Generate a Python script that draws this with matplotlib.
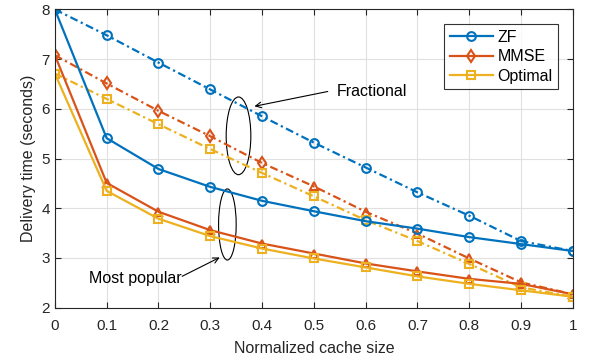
import matplotlib
matplotlib.use('Agg')
import matplotlib.pyplot as plt
from matplotlib.patches import Ellipse

plt.rcParams['font.family'] = ['Liberation Sans', 'DejaVu Sans']

# cache size
x = [0, 0.1, 0.2, 0.3, 0.4, 0.5, 0.6, 0.7, 0.8, 0.9, 1.0]

# fractional caching (dash-dot)
zf_frac = [8.0, 7.48, 6.93, 6.39, 5.85, 5.32, 4.82, 4.32, 3.85, 3.34, 3.14]
mmse_frac = [7.08, 6.51, 5.96, 5.45, 4.91, 4.44, 3.93, 3.49, 2.99, 2.51, 2.27]
opt_frac = [6.71, 6.20, 5.69, 5.19, 4.71, 4.24, 3.76, 3.34, 2.88, 2.41, 2.22]

# most popular caching (solid)
zf_pop = [8.0, 5.41, 4.79, 4.43, 4.15, 3.94, 3.74, 3.59, 3.42, 3.28, 3.14]
mmse_pop = [7.08, 4.51, 3.93, 3.56, 3.29, 3.09, 2.89, 2.73, 2.58, 2.48, 2.27]
opt_pop = [6.71, 4.35, 3.79, 3.44, 3.19, 2.99, 2.81, 2.63, 2.48, 2.35, 2.22]

c_zf = '#0072BD'
c_mmse = '#D95319'
c_opt = '#EDB120'

fig = plt.figure(figsize=(5.9, 3.62), dpi=100)
ax = fig.add_axes([0.093, 0.15, 0.878, 0.824])

kw = dict(lw=1.6, ms=6.3, mfc='none', mew=1.5)
dd = (3.6, 1.6, 1, 1.6)

# fractional
ax.plot(x, zf_frac, '-.', color=c_zf, marker='o', dashes=dd, **kw)
ax.plot(x, mmse_frac, '-.', color=c_mmse, marker='d', dashes=dd, markevery=[0, 1, 2, 3, 4], **kw)
ax.plot(x, mmse_frac, ls='none', color=c_mmse, marker='^', markevery=[5, 6, 7, 8, 9, 10], **kw)
ax.plot(x, opt_frac, '-.', color=c_opt, marker='s', dashes=dd, **kw)

# most popular
ax.plot(x, zf_pop, '-', color=c_zf, marker='o', **kw)
ax.plot(x, mmse_pop, '-', color=c_mmse, marker='^', markevery=list(range(1, 11)), **kw)
ax.plot(x, opt_pop, '-', color=c_opt, marker='s', **kw)

# legend handles
h_zf, = ax.plot([], [], '-', color=c_zf, marker='o', **kw)
h_mmse, = ax.plot([], [], '-', color=c_mmse, marker='d', **kw)
h_opt, = ax.plot([], [], '-', color=c_opt, marker='s', **kw)
leg = ax.legend([h_zf, h_mmse, h_opt], ['ZF', 'MMSE', 'Optimal'], loc='upper right',
                bbox_to_anchor=(0.972, 0.95), fancybox=False, edgecolor='black',
                fontsize=11.5, handlelength=2.7, borderpad=0.35, labelspacing=0.28,
                handletextpad=0.3, borderaxespad=0)
leg.get_frame().set_linewidth(0.8)

# annotations
ax.add_patch(Ellipse((0.3545, 5.457), 0.0476, 1.563, fill=False, lw=0.8, color='black'))
ax.add_patch(Ellipse((0.333, 3.674), 0.034, 1.43, fill=False, lw=0.8, color='black'))
ax.annotate('', xy=(0.38, 6.04), xytext=(0.532, 6.36),
            arrowprops=dict(arrowstyle='->', color='black', lw=0.8))
ax.text(0.545, 6.34, 'Fractional', fontsize=11.5, va='center', ha='left')
ax.annotate('', xy=(0.323, 3.036), xytext=(0.241, 2.607),
            arrowprops=dict(arrowstyle='->', color='black', lw=0.8))
ax.text(0.0655, 2.59, 'Most popular', fontsize=11.5, va='center', ha='left')

ax.set_xlim(0, 1)
ax.set_ylim(2, 8)
ax.set_xticks(x)
ax.set_xticklabels(['0', '0.1', '0.2', '0.3', '0.4', '0.5', '0.6', '0.7', '0.8', '0.9', '1'])
ax.set_yticks([2, 3, 4, 5, 6, 7, 8])
ax.tick_params(direction='in', top=True, right=True, labelsize=11, colors='#262626', length=4)
ax.tick_params(axis='x', pad=8)
ax.grid(color='#e0e0e0', lw=0.8)
ax.set_axisbelow(True)
for s in ax.spines.values():
    s.set_color('#262626')
    s.set_linewidth(0.8)
ax.set_xlabel('Normalized cache size', fontsize=11.5, color='#262626', labelpad=6)
ax.set_ylabel('Delivery time (seconds)', fontsize=11.5, color='#262626')

plt.savefig('out.png', dpi=100)
